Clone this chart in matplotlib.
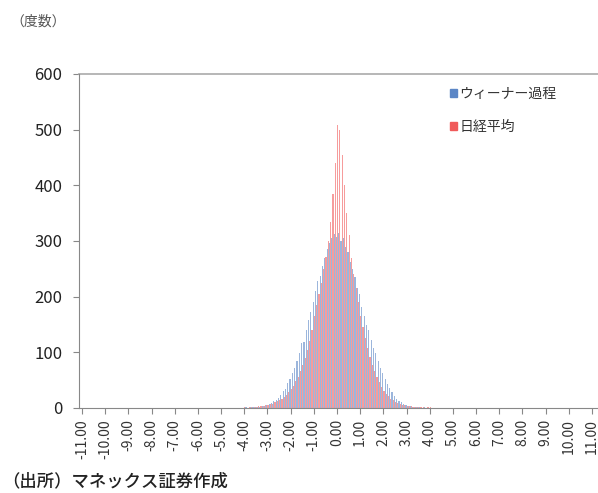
import numpy as np
import matplotlib
matplotlib.use("Agg")
import matplotlib.pyplot as plt
from matplotlib.patches import Patch

plt.rcParams['font.family'] = ['Noto Sans CJK JP', 'DejaVu Sans']

# bins of width 0.1 from -11.0 to 11.0
bins = np.round(np.arange(-110, 111) / 10, 1)

# counts for the central bins, -4.0 .. 4.0
core_start = -4.0
wiener_core = [
    0, 1, 0, 1, 1, 1, 2, 2, 3, 4,
    5, 7, 9, 12, 15, 18, 24, 30, 35, 45,
    52, 63, 72, 84, 98, 117, 118, 140, 158, 172,
    190, 210, 228, 238, 255, 270, 285, 296, 305, 312,
    308, 315, 300, 305, 290, 280, 262, 250, 236, 215,
    205, 182, 165, 150, 140, 122, 108, 98, 85, 72,
    62, 52, 44, 36, 28, 22, 17, 13, 10, 7,
    5, 4, 3, 2, 1, 1, 1, 0, 1, 0,
    0,
]
nikkei_core = [
    1, 0, 1, 1, 2, 2, 3, 3, 4, 5,
    6, 7, 8, 10, 12, 14, 17, 20, 24, 28,
    34, 40, 48, 56, 66, 78, 90, 105, 120, 140,
    165, 185, 205, 225, 250, 272, 300, 335, 385, 440,
    508, 500, 455, 400, 350, 310, 270, 240, 215, 190,
    165, 145, 125, 108, 92, 78, 66, 55, 46, 38,
    31, 26, 21, 17, 14, 11, 9, 7, 6, 5,
    4, 3, 3, 2, 2, 1, 1, 1, 0, 1,
    1,
]

wiener = np.zeros(len(bins))
nikkei = np.zeros(len(bins))
i0 = int(round((core_start - bins[0]) * 10))
wiener[i0:i0 + len(wiener_core)] = wiener_core
nikkei[i0:i0 + len(nikkei_core)] = nikkei_core

fig = plt.figure(figsize=(5.98, 4.93), dpi=100)
ax = fig.add_axes([79 / 598, 85 / 493, 1 - 79 / 598, 334 / 493])

w = 0.05
ax.bar(bins - w / 2, wiener, width=w, color='#5b86c6', alpha=0.6, linewidth=0)
ax.bar(bins + w / 2, nikkei, width=w, color='#f05a5a', alpha=0.6, linewidth=0)

ax.set_xlim(-11.13, 11.26)
ax.set_ylim(0, 600)
ax.set_yticks([0, 100, 200, 300, 400, 500, 600])
ax.tick_params(axis='y', labelsize=12, length=4, pad=8, color='#888888', labelcolor='#222222')
ax.set_xticks(np.arange(-11, 12))
ax.set_xticklabels([f'{v:.2f}' for v in np.arange(-11, 12)], rotation=90,
                   fontsize=10, color='#333333')
ax.tick_params(axis='x', length=4, pad=4, color='#888888')
for side in ['top', 'right']:
    ax.spines[side].set_visible(False)
ax.spines['left'].set_color('#888888')
ax.spines['bottom'].set_color('#888888')
ax.axhline(600, color='#aaaaaa', linewidth=1.2, clip_on=False)

handles = [Patch(color='#5b86c6'), Patch(color='#f05a5a')]
ax.legend(handles, ['ウィーナー過程', '日経平均'], loc='upper left',
          bbox_to_anchor=(0.69, 1.0), frameon=False, fontsize=10,
          handlelength=0.5, handleheight=0.5, handletextpad=0.2,
          labelspacing=1.4, labelcolor='#333333')

fig.text(10 / 598, 1 - 22 / 493, '（度数）', fontsize=10, color='#555555', va='center')
fig.text(2 / 598, 1 - 481 / 493, '（出所）マネックス証券作成', fontsize=12.5,
         color='#222222', va='center', ha='left', fontweight='medium')

fig.savefig('out.png', dpi=100)
